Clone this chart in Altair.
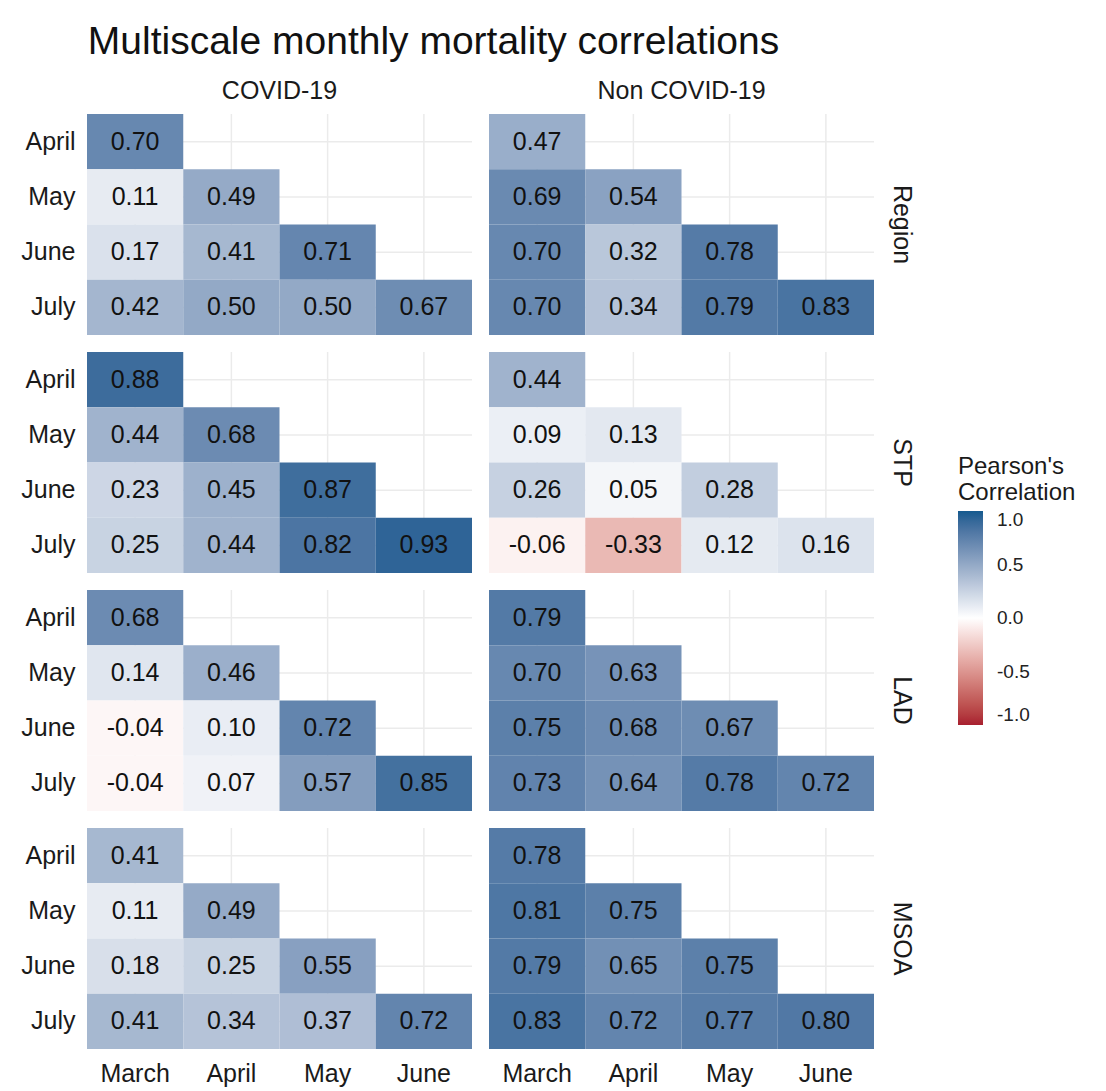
import altair as alt
import pandas as pd

months_x = ["March", "April", "May", "June"]
months_y = ["April", "May", "June", "July"]
types = ["COVID-19", "Non COVID-19"]
scales = ["Region", "STP", "LAD", "MSOA"]

# lower-triangular correlation values, row by row (April, May, June, July)
covid_region = [[0.70], [0.11, 0.49], [0.17, 0.41, 0.71], [0.42, 0.50, 0.50, 0.67]]
non_region = [[0.47], [0.69, 0.54], [0.70, 0.32, 0.78], [0.70, 0.34, 0.79, 0.83]]
covid_stp = [[0.88], [0.44, 0.68], [0.23, 0.45, 0.87], [0.25, 0.44, 0.82, 0.93]]
non_stp = [[0.44], [0.09, 0.13], [0.26, 0.05, 0.28], [-0.06, -0.33, 0.12, 0.16]]
covid_lad = [[0.68], [0.14, 0.46], [-0.04, 0.10, 0.72], [-0.04, 0.07, 0.57, 0.85]]
non_lad = [[0.79], [0.70, 0.63], [0.75, 0.68, 0.67], [0.73, 0.64, 0.78, 0.72]]
covid_msoa = [[0.41], [0.11, 0.49], [0.18, 0.25, 0.55], [0.41, 0.34, 0.37, 0.72]]
non_msoa = [[0.78], [0.81, 0.75], [0.79, 0.65, 0.75], [0.83, 0.72, 0.77, 0.80]]

panels = {
    ("COVID-19", "Region"): covid_region,
    ("Non COVID-19", "Region"): non_region,
    ("COVID-19", "STP"): covid_stp,
    ("Non COVID-19", "STP"): non_stp,
    ("COVID-19", "LAD"): covid_lad,
    ("Non COVID-19", "LAD"): non_lad,
    ("COVID-19", "MSOA"): covid_msoa,
    ("Non COVID-19", "MSOA"): non_msoa,
}

rows = []
for (t, s), tri in panels.items():
    for i, vals in enumerate(tri):
        for j, v in enumerate(vals):
            rows.append({"kind": "cell", "type": t, "scale": s, "m1": months_x[j],
                         "m2": months_y[i], "r": v, "label": f"{v:.2f}"})
    # background grid lines (one per category, like ggplot's major grid)
    for m in months_x:
        rows.append({"kind": "gx", "type": t, "scale": s, "m1": m, "m2": None,
                     "r": None, "label": ""})
    for m in months_y:
        rows.append({"kind": "gy", "type": t, "scale": s, "m1": None, "m2": m,
                     "r": None, "label": ""})
df = pd.DataFrame(rows)

FONT = "Liberation Sans"
W, H = 385, 221
GRID = "#ebebeb"

xs = alt.Scale(domain=months_x, paddingInner=0, paddingOuter=0)
ys = alt.Scale(domain=months_y, paddingInner=0, paddingOuter=0)
x = alt.X("m1:N", sort=months_x, title=None, scale=xs)
y = alt.Y("m2:N", sort=months_y, title=None, scale=ys)

base = alt.Chart(df)

grid_v = base.transform_filter("datum.kind == 'gx'").mark_rule(
    color=GRID, strokeWidth=1.5).encode(
    x=alt.X("m1:N", sort=months_x, title=None, scale=xs, bandPosition=0.5),
    y=alt.value(0), y2=alt.value(H))
grid_h = base.transform_filter("datum.kind == 'gy'").mark_rule(
    color=GRID, strokeWidth=1.5).encode(
    y=alt.Y("m2:N", sort=months_y, title=None, scale=ys, bandPosition=0.5),
    x=alt.value(0), x2=alt.value(W))

cells = base.transform_filter("datum.kind == 'cell'")
rect = cells.mark_rect(strokeWidth=0).encode(
    x=x, y=y,
    color=alt.Color("r:Q",
                    scale=alt.Scale(domain=[-1, 0, 1],
                                    range=["#a8202f", "#ffffff", "#155a8f"],
                                    interpolate="lab"),
                    legend=alt.Legend(title=["Pearson's", "Correlation"],
                                      values=[-1, -0.5, 0, 0.5, 1],
                                      labelExpr="datum.value < 0 ? '-' + format(-datum.value, '.1f') : format(datum.value, '.1f')",
                                      gradientLength=214, gradientThickness=25,
                                      labelOffset=14,
                                      orient="none", legendX=871, legendY=341,
                                      direction="vertical")),
)
text = cells.mark_text(font=FONT, fontSize=25, color="#111111").encode(
    x=x, y=y, text="label:N")

layer = alt.layer(grid_v, grid_h, rect, text).properties(width=W, height=H)

chart = layer.facet(
    column=alt.Column("type:N", sort=types, title=None,
                      header=alt.Header(labelFontSize=25, labelFont=FONT, labelColor="#1a1a1a",
                                        labelPadding=9)),
    row=alt.Row("scale:N", sort=scales, title=None,
                header=alt.Header(labelFontSize=25, labelFont=FONT, labelColor="#1a1a1a",
                                  labelOrient="right", labelAngle=90, labelPadding=14)),
    spacing={"row": 15, "column": 15},
).properties(
    padding={"left": 12, "top": 15, "right": 5, "bottom": 2},
    title=alt.TitleParams("Multiscale monthly mortality correlations", fontSize=39,
                          font=FONT, fontWeight="normal", anchor="start", color="#111111",
                          offset=17, dx=67),
).configure_view(stroke=None).configure_axis(
    grid=False, domain=False, ticks=False,
    labelFontSize=25, labelFont=FONT, labelColor="#1a1a1a", labelPadding=11,
).configure_axisX(labelAngle=0, labelPadding=11).configure_legend(
    titleFontSize=24, titleFont=FONT, titleFontWeight="normal", titleColor="#1a1a1a",
    labelFontSize=19, labelFont=FONT, labelColor="#222222", titlePadding=6,
)

chart.save("out.html", embed_options={"renderer": "svg", "actions": False})
